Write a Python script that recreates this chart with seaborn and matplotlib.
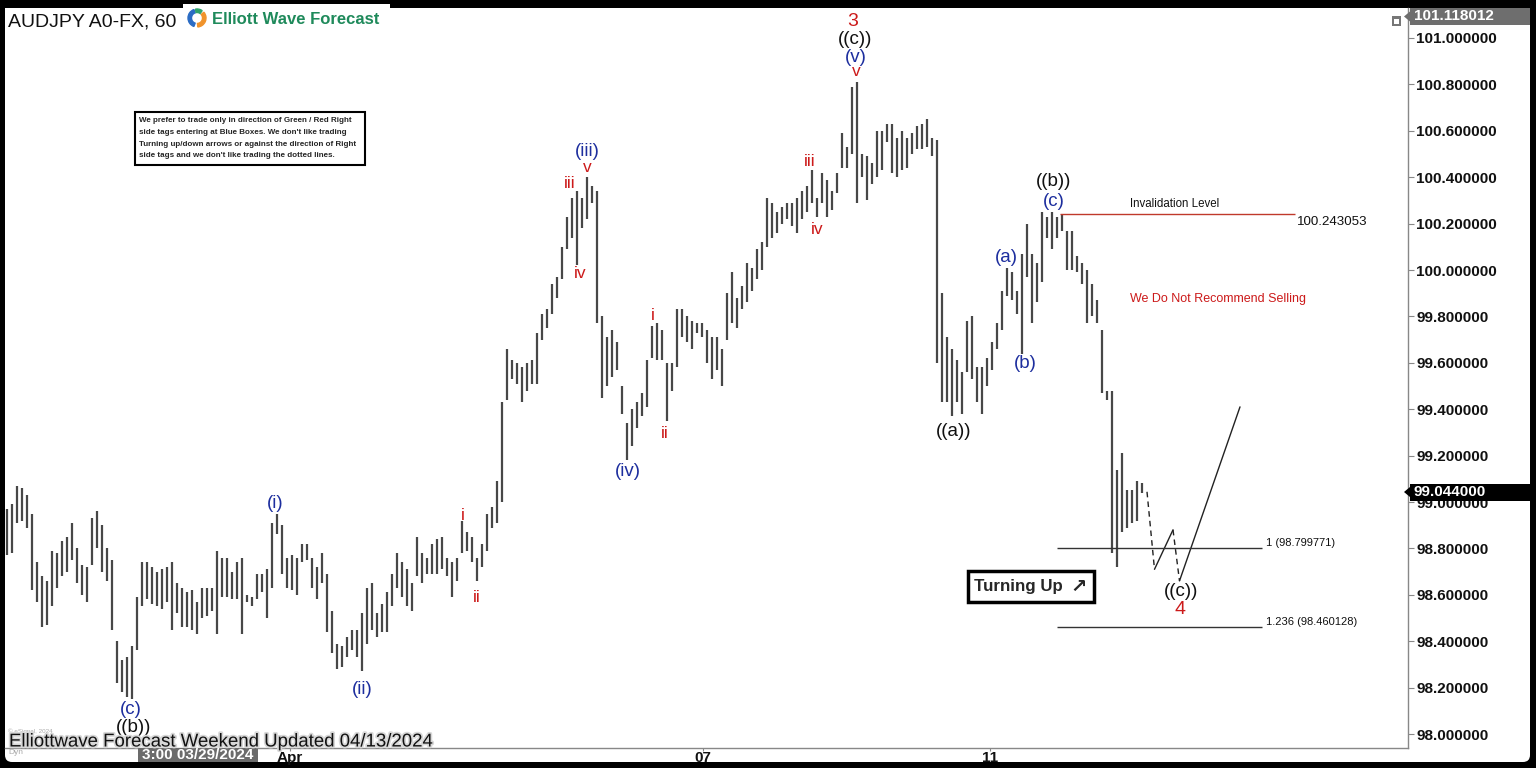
import numpy as np
import pandas as pd
import matplotlib
matplotlib.use("Agg")
import matplotlib.pyplot as plt
import matplotlib.transforms as mtransforms
import matplotlib.patheffects as pe
from matplotlib.patches import Rectangle, FancyBboxPatch, Polygon, Wedge
import seaborn as sns

# AUDJPY hourly bars (one entry per bar)
bar_high = [
    98.97, 98.99, 99.07, 99.06, 99.03, 98.95, 98.74, 98.68, 98.66, 98.79,
    98.78, 98.83, 98.85, 98.91, 98.80, 98.73, 98.72, 98.93, 98.96, 98.90,
    98.80, 98.75, 98.40, 98.32, 98.33, 98.38, 98.59, 98.74, 98.74, 98.72,
    98.70, 98.71, 98.72, 98.74, 98.65, 98.63, 98.61, 98.62, 98.57, 98.63,
    98.63, 98.63, 98.79, 98.76, 98.76, 98.70, 98.74, 98.76, 98.60, 98.59,
    98.69, 98.69, 98.71, 98.91, 98.95, 98.90, 98.76, 98.77, 98.76, 98.82,
    98.82, 98.76, 98.72, 98.78, 98.69, 98.53, 98.39, 98.38, 98.42, 98.45,
    98.45, 98.52, 98.63, 98.65, 98.52, 98.56, 98.61, 98.69, 98.78, 98.74,
    98.71, 98.65, 98.85, 98.78, 98.76, 98.82, 98.84, 98.85, 98.76, 98.74,
    98.76, 98.92, 98.87, 98.85, 98.76, 98.82, 98.95, 98.98, 99.09, 99.43,
    99.66, 99.61, 99.60, 99.58, 99.60, 99.61, 99.73, 99.81, 99.83, 99.94,
    99.97, 100.10, 100.23, 100.31, 100.34, 100.31, 100.40, 100.36, 100.34, 99.80,
    99.71, 99.74, 99.69, 99.50, 99.34, 99.40, 99.43, 99.47, 99.61, 99.76,
    99.77, 99.74, 99.60, 99.60, 99.83, 99.83, 99.80, 99.78, 99.77, 99.77,
    99.74, 99.71, 99.71, 99.66, 99.90, 99.99, 99.88, 99.93, 100.03, 100.01,
    100.09, 100.12, 100.31, 100.29, 100.25, 100.27, 100.29, 100.29, 100.31, 100.34,
    100.36, 100.43, 100.31, 100.42, 100.39, 100.34, 100.42, 100.59, 100.53, 100.79,
    100.81, 100.50, 100.49, 100.46, 100.60, 100.60, 100.63, 100.63, 100.57, 100.60,
    100.57, 100.59, 100.62, 100.63, 100.65, 100.57, 100.56, 99.90, 99.71, 99.66,
    99.61, 99.56, 99.78, 99.80, 99.58, 99.58, 99.62, 99.69, 99.77, 99.91,
    100.01, 99.99, 99.91, 100.07, 100.20, 100.07, 100.03, 100.25, 100.23, 100.25,
    100.23, 100.24, 100.17, 100.17, 100.06, 100.03, 100.00, 99.94, 99.87, 99.74,
    99.48, 99.48, 99.14, 99.21, 99.05, 99.05, 99.09, 99.08,
]
bar_low = [
    98.77, 98.78, 98.91, 98.92, 98.89, 98.62, 98.57, 98.46, 98.47, 98.55,
    98.63, 98.68, 98.70, 98.75, 98.65, 98.60, 98.57, 98.73, 98.80, 98.70,
    98.66, 98.45, 98.22, 98.18, 98.16, 98.15, 98.36, 98.55, 98.58, 98.56,
    98.55, 98.54, 98.57, 98.45, 98.52, 98.46, 98.46, 98.45, 98.43, 98.50,
    98.51, 98.53, 98.43, 98.59, 98.59, 98.58, 98.58, 98.43, 98.57, 98.55,
    98.58, 98.61, 98.50, 98.63, 98.86, 98.69, 98.63, 98.62, 98.60, 98.74,
    98.75, 98.63, 98.58, 98.65, 98.44, 98.35, 98.28, 98.29, 98.33, 98.36,
    98.33, 98.27, 98.39, 98.45, 98.42, 98.44, 98.44, 98.55, 98.63, 98.59,
    98.55, 98.53, 98.68, 98.65, 98.69, 98.69, 98.69, 98.71, 98.68, 98.59,
    98.66, 98.78, 98.79, 98.74, 98.66, 98.72, 98.79, 98.89, 98.91, 99.00,
    99.44, 99.53, 99.51, 99.43, 99.48, 99.51, 99.51, 99.70, 99.75, 99.81,
    99.88, 99.96, 100.09, 100.14, 100.02, 100.18, 100.22, 100.29, 99.77, 99.45,
    99.50, 99.54, 99.57, 99.38, 99.18, 99.24, 99.32, 99.37, 99.41, 99.62,
    99.61, 99.61, 99.35, 99.48, 99.58, 99.71, 99.69, 99.66, 99.73, 99.71,
    99.60, 99.53, 99.57, 99.50, 99.70, 99.77, 99.75, 99.83, 99.86, 99.91,
    99.96, 100.00, 100.10, 100.14, 100.16, 100.20, 100.22, 100.19, 100.16, 100.22,
    100.25, 100.29, 100.23, 100.29, 100.23, 100.26, 100.33, 100.44, 100.44, 100.50,
    100.29, 100.40, 100.30, 100.37, 100.40, 100.43, 100.55, 100.42, 100.40, 100.43,
    100.44, 100.50, 100.52, 100.52, 100.53, 100.49, 99.60, 99.43, 99.43, 99.37,
    99.43, 99.38, 99.56, 99.53, 99.43, 99.38, 99.50, 99.57, 99.66, 99.74,
    99.89, 99.87, 99.81, 99.64, 99.97, 99.77, 99.86, 99.95, 100.14, 100.09,
    100.14, 100.17, 100.00, 100.00, 99.99, 99.94, 99.77, 99.80, 99.77, 99.47,
    99.44, 98.78, 98.72, 98.87, 98.89, 98.91, 98.92, 99.04,
]

last_price = 99.044
top_price = 101.118012
invalidation = 100.243053
fib_ratio = ["1", "1.236"]
fib_price = [98.799771, 98.460128]

# projected ((c)) path and the turn up afterwards
proj_bar = [228.0, 229.5, 233.2, 234.5, 246.6]
proj_price = [99.044, 98.71, 98.88, 98.66, 99.41]

price_ticks = np.round(np.arange(98.0, 101.01, 0.2), 1)
date_labels = ["Apr", "07", "11"]

note_lines = [
    "We prefer to trade only in direction of Green / Red Right",
    "side tags entering at Blue Boxes. We don't like trading",
    "Turning up/down arrows or against the direction of Right",
    "side tags and we don't like trading the dotted lines.",
]

RED = "#cc1a1a"
BLUE = "#1d2e9e"
BLACK = "#111111"

# wave label: text, x px, y px (from top), colour, size
wave_layout = [
    ("3", 853, 21, RED, 14), ("((c))", 855, 40, BLACK, 13.5),
    ("(v)", 856, 58, BLUE, 13.5), ("v", 856, 72, RED, 12.5),
    ("(iii)", 587, 152, BLUE, 13.5), ("v", 587, 168, RED, 12.5),
    ("iii", 570, 183, RED, 12.5), ("iv", 580, 274, RED, 12.5),
    ("i", 653, 315, RED, 12.5), ("ii", 665, 433, RED, 12.5),
    ("(iv)", 628, 472, BLUE, 13.5), ("iii", 810, 162, RED, 12.5),
    ("iv", 817, 230, RED, 12.5), ("((a))", 954, 432, BLACK, 13.5),
    ("((b))", 1054, 182, BLACK, 13.5), ("(c)", 1054, 202, BLUE, 13.5),
    ("(a)", 1006, 257, BLUE, 13.5), ("(b)", 1025, 364, BLUE, 13.5),
    ("((c))", 1181, 592, BLACK, 13.5), ("4", 1180, 610, RED, 14),
    ("(i)", 275, 503, BLUE, 13.5), ("(ii)", 362, 690, BLUE, 13.5),
    ("i", 463, 515, RED, 12.5), ("ii", 477, 597, RED, 12.5),
    ("(c)", 131, 709, BLUE, 13.5), ("((b))", 134, 728, BLACK, 13.5),
]

sns.set_theme(style="white")
plt.rcParams["font.family"] = ["Liberation Sans", "DejaVu Sans"]

W, H = 1536, 768
fig = plt.figure(figsize=(W / 100, H / 100), dpi=100)
fig.patch.set_facecolor("black")
PX = mtransforms.Affine2D().scale(1 / W, 1 / H) + fig.transFigure


def fy(y):
    return H - y


fig.add_artist(FancyBboxPatch((5, fy(762)), 1525, 754,
                              boxstyle="round,pad=0,rounding_size=7",
                              transform=PX, facecolor="white",
                              edgecolor="none", zorder=-1))

ax = fig.add_axes([5 / W, 20 / H, 1403 / W, 740 / H])
ax.set_facecolor("white")

df = pd.DataFrame({"bar": np.arange(len(bar_high)),
                   "high": bar_high, "low": bar_low})
ax.vlines(df["bar"], df["low"], df["high"], color="#474747", lw=1.6)

# projection
styles = ["--", "-", "--", "-"]
for k, ls in enumerate(styles):
    seg = pd.DataFrame({"bar": proj_bar[k:k + 2], "price": proj_price[k:k + 2]})
    if ls == "--":
        ax.plot(seg["bar"], seg["price"], color="#222", lw=1, dashes=(4, 3))
    else:
        sns.lineplot(data=seg, x="bar", y="price", ax=ax, color="#222", lw=1)

ax.hlines(invalidation, 210.6, 257.6, color="#c0392b", lw=1)
ax.hlines(fib_price, 210, 251, color="#333", lw=1)

ax.set_xlim(-0.4, 280.2)
ax.set_ylim(97.9397, 101.1293)
ax.set_xlabel("")
ax.set_ylabel("")

for s in ["top", "left"]:
    ax.spines[s].set_visible(False)
for s in ["right", "bottom"]:
    ax.spines[s].set_color("#888")
    ax.spines[s].set_linewidth(1)

ax.yaxis.tick_right()
ax.set_yticks(price_ticks)
ax.set_yticklabels([f"{p:.6f}" for p in price_ticks], fontsize=11,
                   fontweight="bold", color="#111")
ax.tick_params(axis="y", direction="out", length=4, width=0.8,
               color="#888", pad=2, right=True, left=False)
ax.set_xticks([56.6, 139.2, 196.6])
ax.set_xticklabels(date_labels, fontsize=11, fontweight="bold", color="#111")
ax.tick_params(axis="x", direction="out", length=2, width=0.8,
               color="#888", pad=0, bottom=True)

# texts on the chart
for txt, x, y, col, size in wave_layout:
    fig.text(x, fy(y), txt, transform=PX, color=col, fontsize=size,
             ha="center", va="center")

fig.text(1175, fy(204), "Invalidation Level", transform=PX, fontsize=8.3,
         color=BLACK, ha="center", va="center")
fig.text(1297, fy(222), f"{invalidation:.6f}", transform=PX, fontsize=9.6,
         color=BLACK, ha="left", va="center")
fig.text(1218, fy(299), "We Do Not Recommend Selling", transform=PX,
         fontsize=9, color=RED, ha="center", va="center")
for r, p, y in zip(fib_ratio, fib_price, [543, 622]):
    fig.text(1266, fy(y), f"{r} ({p:.6f})", transform=PX, fontsize=8,
             color=BLACK, ha="left", va="center")

# Turning Up box
fig.add_artist(Rectangle((968, fy(602)), 126, 31, transform=PX,
                         facecolor="white", edgecolor="black", lw=2.5))
fig.text(974, fy(587), "Turning Up", transform=PX, fontsize=12.2,
         fontweight="bold", ha="left", va="center")
fig.text(1079, fy(586), "\u2197", transform=PX, fontsize=14,
         family=["DejaVu Sans"], fontweight="bold", ha="center", va="center")

# note box
fig.add_artist(Rectangle((135, fy(165)), 230, 53, transform=PX,
                         facecolor="white", edgecolor="black", lw=1.5))
for line, y in zip(note_lines, [120, 132, 144, 155.5]):
    fig.text(139, fy(y), line, transform=PX, fontsize=5.8,
             fontweight="bold", ha="left", va="center")

# header
fig.text(8, fy(22), "AUDJPY A0-FX, 60", transform=PX, fontsize=14,
         color=BLACK, ha="left", va="center")
fig.add_artist(Rectangle((183, fy(31)), 207, 27, transform=PX,
                         facecolor="white", edgecolor="none"))
for c, a0, a1 in [("#2b6cc4", 110, 250), ("#f0932b", 275, 40),
                  ("#2fa36b", 55, 100)]:
    fig.add_artist(Wedge((197, fy(18)), 9, a0, a1, width=3.5,
                         transform=PX, color=c))
fig.text(212, fy(19), "Elliott Wave Forecast", transform=PX, fontsize=12,
         fontweight="bold", color="#1f8a5b", ha="left", va="center")

# price flags on the right axis
fig.add_artist(Rectangle((1392, fy(26)), 9, 10, transform=PX,
                         facecolor="#777", edgecolor="none"))
fig.add_artist(Rectangle((1394, fy(24)), 5, 5, transform=PX,
                         facecolor="white", edgecolor="none"))
for val, y, col in [(top_price, 16.5, "#6e6e6e"), (last_price, 492, "#000")]:
    fig.add_artist(Rectangle((1410, fy(y + 8.5)), 120, 17, transform=PX,
                             facecolor=col, edgecolor="none"))
    fig.add_artist(Polygon([(1404, fy(y)), (1410, fy(y - 5)), (1410, fy(y + 5))],
                           transform=PX, facecolor=col, edgecolor="none"))
    fig.text(1414, fy(y), f"{val:.6f}", transform=PX, fontsize=11,
             fontweight="bold", color="white", ha="left", va="center")

# bottom strip
fig.add_artist(Rectangle((138, fy(762)), 120, 14, transform=PX,
                         facecolor="#6b6b6b", edgecolor="none"))
fig.text(198, fy(755), "3:00 03/29/2024", transform=PX, fontsize=11,
         fontweight="bold", color="white", ha="center", va="center")
fig.text(8, fy(731), "\u00a9 eSignal, 2024", transform=PX, fontsize=4.5,
         color="#aaa", ha="left", va="center")
fig.text(8, fy(753), "Dyn", transform=PX, fontsize=6, color="#aaa",
         ha="left", va="center")
fig.text(9, fy(742), "Elliottwave Forecast Weekend Updated 04/13/2024",
         transform=PX, fontsize=13.4, color=BLACK, ha="left", va="center",
         path_effects=[pe.withStroke(linewidth=2.5, foreground="#d8d8d8")])

fig.savefig("out.png", dpi=100, facecolor=fig.get_facecolor())
